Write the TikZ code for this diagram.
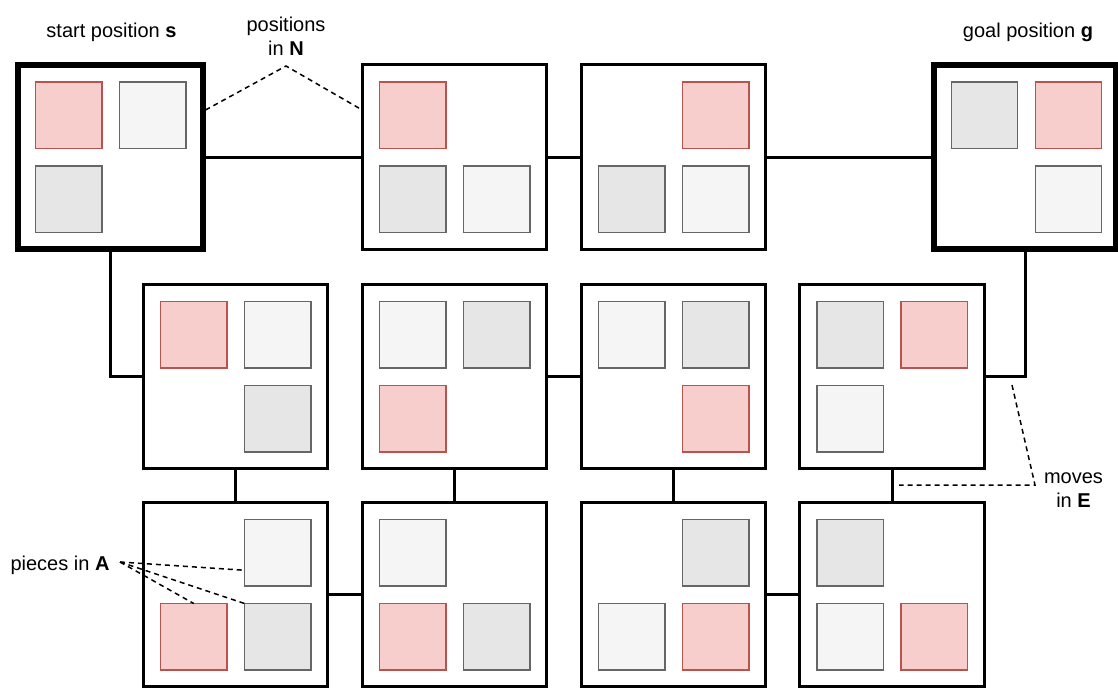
\documentclass[tikz,border=0pt]{standalone}
\usepackage{fontspec}
\setmainfont{Liberation Sans}
\usetikzlibrary{calc}
\definecolor{redfill}{HTML}{F8CECC}
\definecolor{redline}{HTML}{B85450}
\definecolor{lightfill}{HTML}{F5F5F5}
\definecolor{darkfill}{HTML}{E6E6E6}
\definecolor{pieceline}{HTML}{666666}
\newcommand\pcs[5]{%
  \ifx\relax#2\relax\else\node[#2] (#1-tl) at ($(#1.north west)+(50.5,50.5)$) {};\fi
  \ifx\relax#3\relax\else\node[#3] (#1-tr) at ($(#1.north west)+(134.5,50.5)$) {};\fi
  \ifx\relax#4\relax\else\node[#4] (#1-bl) at ($(#1.north west)+(50.5,134.5)$) {};\fi
  \ifx\relax#5\relax\else\node[#5] (#1-br) at ($(#1.north west)+(134.5,134.5)$) {};\fi
}
\begin{document}
\begin{tikzpicture}[x=1pt,y=-1pt,
  posbox/.style={rectangle,draw=black,line width=3pt,fill=white,minimum size=184.5pt,inner sep=0pt,outer sep=0pt},
  endbox/.style={posbox,line width=6pt},
  piece/.style={rectangle,minimum size=66.5pt,inner sep=0pt,outer sep=0pt,line width=1.3pt},
  pr/.style={piece,draw=redline,fill=redfill},
  pl/.style={piece,draw=pieceline,fill=lightfill},
  pd/.style={piece,draw=pieceline,fill=darkfill},
  move/.style={line width=3pt,draw=black},
  note/.style={line width=1.5pt,draw=black,dash pattern=on 5pt off 4pt},
  lbl/.style={font=\fontsize{20}{24.5}\selectfont,inner sep=0pt,text=black}
]
\useasboundingbox (0,0) rectangle (1118,689);
% row 1
\node[endbox] (s) at (110.5,157) {};
\node[posbox] (b2) at (454.5,157) {};
\node[posbox] (b3) at (673.5,157) {};
\node[endbox,minimum width=182pt] (g) at (1025,157) {};
% row 2
\node[posbox] (c1) at (235.5,376.5) {};
\node[posbox] (c2) at (454.5,376.5) {};
\node[posbox] (c3) at (673.5,376.5) {};
\node[posbox] (c4) at (892,376.5) {};
% row 3
\node[posbox] (d1) at (235.5,594.5) {};
\node[posbox] (d2) at (454.5,594.5) {};
\node[posbox] (d3) at (673.5,594.5) {};
\node[posbox] (d4) at (892,594.5) {};
% pieces
\pcs{s}{pr}{pl}{pd}{}
\pcs{b2}{pr}{}{pd}{pl}
\pcs{b3}{}{pr}{pd}{pl}
\pcs{g}{pd}{pr}{}{pl}
\pcs{c1}{pr}{pl}{}{pd}
\pcs{c2}{pl}{pd}{pr}{}
\pcs{c3}{pl}{pd}{}{pr}
\pcs{c4}{pd}{pr}{pl}{}
\pcs{d1}{}{pl}{pr}{pd}
\pcs{d2}{pl}{}{pr}{pd}
\pcs{d3}{}{pd}{pl}{pr}
\pcs{d4}{pd}{}{pl}{pr}
% moves
\draw[move] (s.east) -- (b2.west);
\draw[move] (b2.east) -- (b3.west);
\draw[move] (b3.east) -- (b3.east -| g.west);
\draw[move] (s.south) |- (c1.west);
\draw[move] (g.south) |- (c4.east);
\draw[move] (c2.east) -- (c3.west);
\draw[move] (c1.south) -- (d1.north);
\draw[move] (c2.south) -- (d2.north);
\draw[move] (c3.south) -- (d3.north);
\draw[move] (c4.south) -- (d4.north);
\draw[move] (d1.east) -- (d2.west);
\draw[move] (d3.east) -- (d4.west);
% labels
\node[lbl,anchor=base] (sl) at (111.5,37.5) {start position \textbf{s}};
\node[lbl,anchor=base] (gl) at (1028,37.5) {goal position \textbf{g}};
\node[lbl,align=center] (nl) at (286,36) {positions\\in \textbf{N}};
\node[lbl,align=center] (el) at (1073.5,490) {moves\\in \textbf{E}};
\node[lbl,anchor=base] (al) at (60,570) {pieces in \textbf{A}};
% annotation leaders
\coordinate (nApex) at (286,66);
\coordinate (nL) at (205.5,110);
\coordinate (nR) at (360.5,109);
\draw[note] (nL) -- (nApex) -- (nR);
\coordinate (eTop) at (1012,385);
\coordinate (eApex) at (1035,485);
\coordinate (eL) at (899,485);
\draw[note] (eTop) -- (eApex) -- (eL);
\coordinate (aO) at (120,562);
\coordinate (aT) at ($(d1-tr.west)+(0,17.5)$);
\draw[note] (aO) -- (aT);
\draw[note] (aO) -- (d1-br.north west);
\draw[note] (aO) -- (d1-bl.north);
\end{tikzpicture}
\end{document}
